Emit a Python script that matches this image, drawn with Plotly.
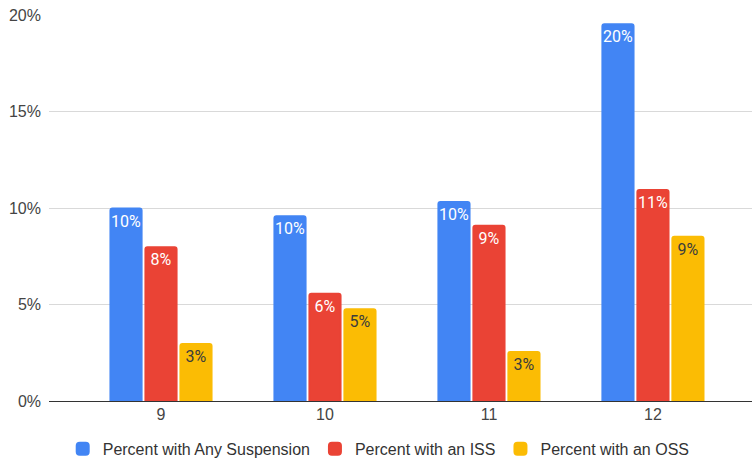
import plotly.graph_objects as go

# Suspension rates by grade level (fractions of students)
grades = ["9", "10", "11", "12"]
any_suspension = [0.0997, 0.0957, 0.1031, 0.1952]
iss = [0.0796, 0.0556, 0.0908, 0.1093]
oss = [0.0295, 0.0475, 0.0254, 0.0851]

series = [
    ("Percent with Any Suspension", any_suspension, "#4285F4", "#FFFFFF"),
    ("Percent with an ISS", iss, "#EA4335", "#FFFFFF"),
    ("Percent with an OSS", oss, "#FBBC04", "#3c3c3c"),
]

fig = go.Figure()
for name, vals, color, txtcolor in series:
    fig.add_trace(go.Bar(
        x=grades, y=vals, name=name,
        # outline in the fill colour also enlarges the legend swatch
        marker=dict(color=color, line=dict(width=2, color=color)),
        texttemplate="%{y:.0%}",
        textposition="inside",
        insidetextanchor="end",
        constraintext="none",
        textangle=0,
        textfont=dict(family="Roboto", size=16, color=txtcolor),
        cliponaxis=False,
    ))

fig.update_layout(
    width=754, height=460,
    margin=dict(l=49, r=2, t=15, b=59, autoexpand=False),
    plot_bgcolor="white", paper_bgcolor="white",
    barmode="group", bargap=0.36, bargroupgap=0.11,
    barcornerradius=2,
    font=dict(family="Arial, Liberation Sans", size=16, color="#444444"),
    legend=dict(
        orientation="h", x=0.469, xanchor="center", y=-0.08, yanchor="top",
        font=dict(family="Arial, Liberation Sans", size=16, color="#333333"),
        itemwidth=30, traceorder="normal",
    ),
    xaxis=dict(
        type="category", range=[-0.683, 3.604],
        showgrid=False, ticks="", showline=False,
        ticklabelstandoff=2,
        tickfont=dict(size=16, color="#444444"),
    ),
    yaxis=dict(
        range=[0, 0.2], tickvals=[0, 0.05, 0.1, 0.15, 0.2],
        tickformat=".0%", showgrid=True, gridcolor="#d9d9d9", gridwidth=1,
        zeroline=True, zerolinecolor="#333333", zerolinewidth=1,
        ticks="", ticklabelstandoff=7,
        tickfont=dict(size=16, color="#444444"),
    ),
)

fig.write_html("out.html")
